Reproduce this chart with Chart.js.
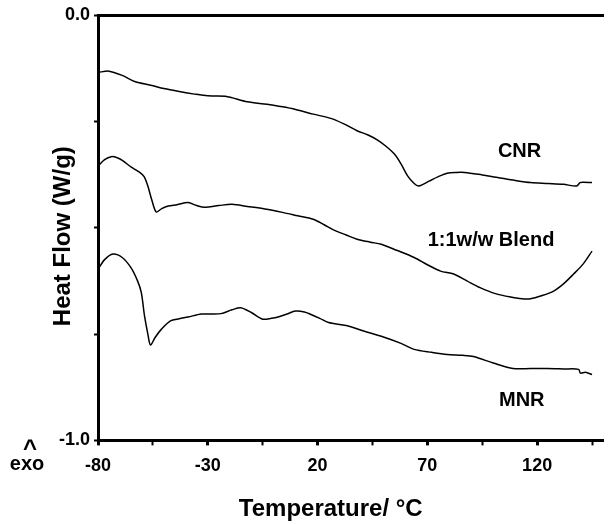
<!DOCTYPE html>
<html>
<head>
<meta charset="utf-8">
<script src="https://cdn.jsdelivr.net/npm/chart.js@4.4.1/dist/chart.umd.min.js"></script>
<style>
    html, body { margin: 0; padding: 0; background: #fff; }
    #wrap { width: 608px; height: 524px; }
</style>
</head>
<body>
<div id="wrap"><canvas id="dsc-chart"></canvas></div>
<script>
const cnrTemp = [-80, -75, -69, -63, -56, -50, -43, -36, -30, -22, -12, -3, 3, 10, 18, 26, 32, 38, 43, 47, 51, 55, 58, 61, 64, 66, 68, 71, 75, 79, 83, 87, 95, 102, 110, 117, 125, 132, 138, 139.5, 141, 145];
const cnrFlow = [-0.135, -0.132, -0.142, -0.157, -0.165, -0.173, -0.180, -0.186, -0.190, -0.191, -0.204, -0.210, -0.215, -0.222, -0.233, -0.243, -0.256, -0.272, -0.282, -0.293, -0.308, -0.327, -0.350, -0.378, -0.396, -0.402, -0.398, -0.390, -0.380, -0.372, -0.370, -0.370, -0.376, -0.382, -0.389, -0.394, -0.396, -0.398, -0.402, -0.394, -0.393, -0.394];

const blendTemp = [-80, -77, -74, -71, -68.6, -65, -61, -59, -57.3, -55.5, -53.5, -51, -48, -44, -39, -35, -31.5, -25, -19, -12, -4, 4, 11, 18, 23, 28, 33, 38, 44, 49, 56, 64, 70, 76, 82, 88, 94, 101, 109, 113, 117, 122, 127.5, 132, 136.6, 141, 145];
const blendFlow = [-0.355, -0.340, -0.333, -0.336, -0.343, -0.357, -0.370, -0.380, -0.402, -0.435, -0.463, -0.455, -0.449, -0.446, -0.441, -0.448, -0.452, -0.448, -0.445, -0.450, -0.456, -0.464, -0.472, -0.480, -0.493, -0.507, -0.517, -0.527, -0.534, -0.539, -0.553, -0.570, -0.587, -0.602, -0.609, -0.625, -0.641, -0.655, -0.664, -0.667, -0.667, -0.660, -0.649, -0.632, -0.609, -0.585, -0.555];

const mnrTemp = [-80, -77, -73.2, -69, -65, -62, -60.3, -58.8, -57.3, -56.1, -54, -51.2, -47, -43, -39, -33, -28, -24, -19, -15, -10, -5, -1, 2, 6, 10, 14, 17, 21, 25, 33, 41, 50, 58, 64, 72, 79, 86, 91, 100, 109, 117, 124.5, 132, 138.9, 139.7, 142, 145];
const mnrFlow = [-0.598, -0.575, -0.562, -0.570, -0.594, -0.625, -0.652, -0.708, -0.750, -0.776, -0.758, -0.739, -0.719, -0.714, -0.710, -0.703, -0.703, -0.702, -0.693, -0.688, -0.700, -0.715, -0.713, -0.710, -0.703, -0.696, -0.698, -0.704, -0.713, -0.723, -0.730, -0.743, -0.757, -0.772, -0.786, -0.793, -0.798, -0.800, -0.803, -0.818, -0.831, -0.831, -0.831, -0.832, -0.833, -0.842, -0.840, -0.845];

const xTicks = [-80, -55, -30, -5, 20, 45, 70, 95, 120, 145];
const xLabels = [-80, -30, 20, 70, 120];
const yTicks = [0, -0.25, -0.5, -0.75, -1];
const yLabels = [0, -1];

// curve names, placed at (temperature, heat flow)
const curveNames = ["CNR", "1:1w/w Blend", "MNR"];
const nameTemp = [112, 99, 113];
const nameFlow = [-0.32, -0.529, -0.906];

const FONT = "'Liberation Sans', Arial, sans-serif";

function toPoints(xs, ys) {
    return xs.map((x, i) => ({ x: x, y: ys[i] }));
}

function series(data) {
    return {
        data: data,
        borderColor: "#000",
        borderWidth: 1.5,
        pointRadius: 0,
        tension: 0.3,
        fill: false,
    };
}

const textPlugin = {
    id: "texts",
    afterDraw(chart) {
        const ctx = chart.ctx;
        const x = chart.scales.x;
        const y = chart.scales.y;
        const area = chart.chartArea;
        ctx.save();
        ctx.fillStyle = "#000";
        ctx.textAlign = "center";
        ctx.textBaseline = "middle";
        ctx.font = "bold 20px " + FONT;
        curveNames.forEach((name, i) => {
            ctx.fillText(name, x.getPixelForValue(nameTemp[i]), y.getPixelForValue(nameFlow[i]));
        });

        // "exo" marker below the y axis
        ctx.font = "bold 20px " + FONT;
        ctx.fillText("exo", area.left - 71, area.bottom + 24);
        ctx.font = "bold 24px " + FONT;
        ctx.textBaseline = "alphabetic";
        ctx.fillText("^", area.left - 68, area.bottom + 16);

        // axis titles
        ctx.font = "bold 24px " + FONT;
        ctx.textBaseline = "middle";
        ctx.fillText("Temperature/ \u00b0C", x.getPixelForValue(26), area.bottom + 69);
        ctx.translate(area.left - 35, y.getPixelForValue(-0.52));
        ctx.rotate(-Math.PI / 2);
        ctx.fillText("Heat Flow (W/g)", 0, 0);
        ctx.restore();
    },
};

new Chart(document.getElementById("dsc-chart"), {
    type: "line",
    data: {
        datasets: [
            series(toPoints(cnrTemp, cnrFlow)),
            series(toPoints(blendTemp, blendFlow)),
            series(toPoints(mnrTemp, mnrFlow)),
        ],
    },
    options: {
        responsive: true,
        maintainAspectRatio: false,
        animation: false,
        layout: {
            padding: { left: 55, right: 5, top: 7, bottom: 37 },
        },
        plugins: {
            legend: { display: false },
            tooltip: { enabled: false },
        },
        scales: {
            x: {
                type: "linear",
                min: -80,
                max: 150,
                afterBuildTicks: (axis) => {
                    axis.ticks = xTicks.map((v) => ({ value: v }));
                },
                border: { display: true, color: "#000", width: 3 },
                grid: {
                    drawOnChartArea: false,
                    drawTicks: true,
                    tickLength: 5,
                    color: "#000",
                    tickWidth: (c) => (xLabels.includes(c.tick && c.tick.value) ? 3 : 2),
                },
                ticks: {
                    color: "#000",
                    padding: 10,
                    maxRotation: 0,
                    autoSkip: false,
                    font: { family: FONT, size: 18, weight: "bold" },
                    callback: (v) => (xLabels.includes(v) ? String(v) : ""),
                },
            },
            x2: {
                type: "linear",
                position: "top",
                min: -80,
                max: 150,
                border: { display: true, color: "#000", width: 3 },
                grid: { display: false },
                ticks: { display: false },
            },
            y: {
                type: "linear",
                min: -1,
                max: 0,
                afterBuildTicks: (axis) => {
                    axis.ticks = yTicks.map((v) => ({ value: v }));
                },
                border: { display: true, color: "#000", width: 3 },
                grid: {
                    drawOnChartArea: false,
                    drawTicks: true,
                    tickLength: 4,
                    tickWidth: 2,
                    color: "#000",
                },
                ticks: {
                    color: "#000",
                    padding: 4,
                    autoSkip: false,
                    font: { family: FONT, size: 18, weight: "bold" },
                    callback: (v) => (yLabels.includes(v) ? v.toFixed(1) : ""),
                },
            },
        },
    },
    plugins: [textPlugin],
});
</script>
</body>
</html>
